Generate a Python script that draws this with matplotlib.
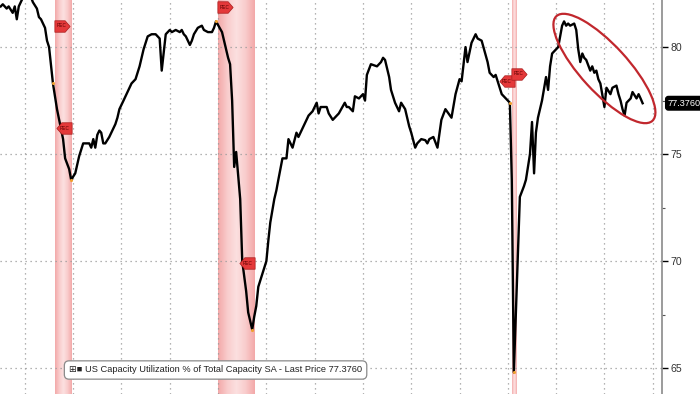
import numpy as np
import pandas as pd
import matplotlib
matplotlib.use('Agg')
import matplotlib.pyplot as plt
import matplotlib.dates as mdates
from matplotlib.patches import Ellipse
from matplotlib.path import Path
from matplotlib.colors import LinearSegmentedColormap
from matplotlib.transforms import IdentityTransform, blended_transform_factory, ScaledTranslation

FONT = ['Liberation Sans', 'DejaVu Sans']
plt.rcParams['font.family'] = FONT

# monthly readings of the series (month, % of capacity)
months = ['1999-01', '1999-02', '1999-04', '1999-05', '1999-07', '1999-08', '1999-09', '1999-10', '1999-12',
          '2000-01', '2000-03', '2000-05', '2000-07', '2000-08', '2000-09', '2000-11', '2000-12',
          '2001-01', '2001-03', '2001-05', '2001-08', '2001-09', '2001-11', '2001-12',
          '2002-02', '2002-04', '2002-06', '2002-07', '2002-09', '2002-10', '2002-11', '2002-12',
          '2003-01', '2003-02', '2003-03', '2003-04', '2003-05', '2003-07', '2003-08', '2003-10', '2003-11', '2003-12',
          '2004-02', '2004-05', '2004-06', '2004-08', '2004-10', '2004-12',
          '2005-02', '2005-04', '2005-06', '2005-08', '2005-09', '2005-11',
          '2006-01', '2006-02', '2006-04', '2006-06', '2006-07', '2006-08', '2006-09', '2006-11', '2006-12',
          '2007-01', '2007-03', '2007-05', '2007-06', '2007-08', '2007-10', '2007-11', '2007-12',
          '2008-03', '2008-05', '2008-06', '2008-07', '2008-08', '2008-09', '2008-10', '2008-11', '2008-12',
          '2009-01', '2009-03', '2009-04', '2009-06', '2009-07', '2009-08', '2009-09', '2009-10', '2009-11',
          '2010-01', '2010-02', '2010-03', '2010-05', '2010-06', '2010-07', '2010-09', '2010-11', '2010-12',
          '2011-02', '2011-04', '2011-05', '2011-07', '2011-09', '2011-10', '2011-12',
          '2012-02', '2012-03', '2012-04', '2012-07', '2012-08', '2012-10', '2012-12',
          '2013-01', '2013-04', '2013-05', '2013-06', '2013-08', '2013-09', '2013-11',
          '2014-01', '2014-02', '2014-03', '2014-05', '2014-08', '2014-10', '2014-11', '2014-12',
          '2015-02', '2015-03', '2015-05', '2015-07', '2015-08', '2015-10', '2015-12',
          '2016-01', '2016-03', '2016-04', '2016-06', '2016-08', '2016-09', '2016-10', '2016-12',
          '2017-02', '2017-04', '2017-06', '2017-09', '2017-11',
          '2018-01', '2018-02', '2018-04', '2018-05', '2018-07', '2018-09', '2018-10', '2018-12',
          '2019-03', '2019-04', '2019-06', '2019-07', '2019-09', '2019-10',
          '2020-01', '2020-02', '2020-03', '2020-04', '2020-07', '2020-09', '2020-10', '2020-11', '2020-12',
          '2021-01', '2021-02', '2021-03', '2021-04', '2021-06', '2021-08', '2021-09', '2021-10', '2021-11',
          '2022-01', '2022-02', '2022-04', '2022-05', '2022-06', '2022-07', '2022-08', '2022-10', '2022-11', '2022-12',
          '2023-01', '2023-02', '2023-03', '2023-04', '2023-06', '2023-07', '2023-08', '2023-09', '2023-10', '2023-11',
          '2024-01', '2024-02', '2024-04', '2024-05', '2024-07', '2024-08', '2024-09', '2024-10', '2024-11', '2024-12',
          '2025-02', '2025-03', '2025-05', '2025-06', '2025-07', '2025-08']
values = [81.9, 82.0, 81.8, 81.9, 81.6, 81.9, 81.3, 81.9, 82.3,
          82.5, 82.6, 82.1, 81.8, 81.4, 81.3, 80.9, 80.3,
          80.0, 78.3, 77.1, 75.7, 74.8, 74.3, 73.8,
          74.1, 74.9, 75.5, 75.5, 75.5, 75.3, 75.7, 75.3,
          75.9, 76.1, 76.0, 75.5, 75.5, 75.8, 76.0, 76.4, 76.7, 77.1,
          77.5, 78.1, 78.3, 78.5, 79.1, 79.9,
          80.5, 80.6, 80.6, 80.4, 78.9, 80.6,
          80.8, 80.7, 80.8, 80.7, 80.8, 80.6, 80.5, 80.1, 80.3,
          80.6, 80.9, 81.0, 80.8, 80.7, 80.7, 80.9, 81.2,
          80.7, 79.9, 79.5, 79.2, 77.5, 74.4, 75.1, 74.0, 72.9,
          70.0, 68.6, 67.6, 66.8, 67.4, 67.9, 68.8, 69.1, 69.4,
          70.0, 71.0, 71.8, 72.9, 73.3, 73.8, 74.8, 74.8, 75.7,
          75.3, 76.0, 75.8, 76.2, 76.6, 76.8, 77.0,
          77.4, 76.9, 77.2, 77.2, 76.9, 76.6, 76.8,
          76.9, 77.4, 77.2, 77.2, 77.0, 77.7, 77.6,
          77.8, 77.5, 78.7, 79.2, 79.1, 79.3, 79.5, 79.4,
          78.6, 78.0, 77.4, 77.0, 77.4, 77.1, 76.3,
          76.0, 75.3, 75.5, 75.7, 75.65, 75.5, 75.7, 75.8,
          75.3, 76.6, 77.1, 76.7, 77.8,
          78.5, 78.4, 80.0, 79.3, 80.2, 80.6, 80.4, 80.3,
          79.3, 78.8, 78.6, 78.7, 78.1, 77.8,
          77.5, 77.4, 73.8, 64.8, 73.0, 73.5, 73.8, 74.4, 75.0,
          76.5, 74.1, 76.0, 76.7, 77.5, 78.6, 78.0, 79.1, 79.7,
          79.9, 80.0, 81.0, 81.2, 81.0, 81.1, 81.0, 81.1, 80.8, 79.9,
          79.3, 79.7, 79.5, 79.4, 78.9, 79.1, 78.8, 78.9, 78.5, 78.3,
          77.2, 78.1, 77.8, 78.1, 78.2, 77.8, 77.5, 77.1, 76.8, 77.4,
          77.6, 77.9, 77.6, 77.8, 77.6, 77.376]

rec_start = ['2001-04-01', '2008-01-01', '2020-03-01']
rec_end = ['2001-12-01', '2009-07-01', '2020-05-01']
turn_months = ['2001-03', '2001-12', '2007-12', '2009-06', '2020-02', '2020-04']

# REC flags: (date the flag edge sits on, level, side)
tag_dates = ['2001-04-01', '2001-12-01', '2008-01-01', '2009-07-01', '2020-04-01', '2020-03-01']
tag_levels = [81.0, 76.2, 81.85, 69.9, 78.4, 78.75]
tag_sides = ['start', 'end', 'start', 'end', 'end', 'start']

y_ticks = [65, 70, 75, 80]
y_minor = [67.5, 72.5, 77.5]
last_price = 77.376
series_name = 'US Capacity Utilization % of Total Capacity SA'
ellipse_center = ('2024-01-01', 79.0)

dates = pd.to_datetime(months, format='%Y-%m')
s = pd.Series(values, index=dates)

fig = plt.figure(figsize=(7, 3.94), dpi=100)
ax = fig.add_axes([0, 0, 662 / 700, 1])
ax.set_xlim(pd.Timestamp('1998-12-21'), pd.Timestamp('2026-05-21'))
ax.set_ylim(63.79, 82.2)

# recession bands with a soft gradient
band_cmap = LinearSegmentedColormap.from_list('band', ['#f3a9a9', '#f9cccc', '#fce0e0', '#f9cccc', '#f3a9a9'])
grad = np.linspace(0, 1, 64).reshape(1, -1)
for a, b in zip(rec_start, rec_end):
    x0 = mdates.date2num(pd.Timestamp(a))
    x1 = mdates.date2num(pd.Timestamp(b))
    ax.imshow(grad, cmap=band_cmap, aspect='auto', extent=(x0, x1, 63.79, 82.2),
              zorder=0, interpolation='bilinear')

ax.xaxis.set_major_locator(mdates.YearLocator(2))
ax.set_yticks(y_ticks)
ax.set_yticks(y_minor, minor=True)
ax.grid(True, which='major', color='#9a9a9a', linestyle=(0, (1, 3)), linewidth=0.9)
ax.set_axisbelow(True)

ax.plot(s.index, s.values, color='black', lw=1.7, zorder=3, solid_joinstyle='round')

turn = s[pd.to_datetime(turn_months, format='%Y-%m')]
ax.scatter(turn.index, turn.values, s=5, color='#f0a030', zorder=4, linewidths=0)

# pentagon flag markers
flag_r = Path([(-1, -0.75), (0.35, -0.75), (1, 0), (0.35, 0.75), (-1, 0.75), (-1, -0.75)],
              [Path.MOVETO] + [Path.LINETO] * 4 + [Path.CLOSEPOLY])
flag_l = Path([(1, -0.75), (-0.35, -0.75), (-1, 0), (-0.35, 0.75), (1, 0.75), (1, -0.75)],
              [Path.MOVETO] + [Path.LINETO] * 4 + [Path.CLOSEPOLY])
for d, lv, side in zip(tag_dates, tag_levels, tag_sides):
    dx = 7 if side == 'start' else -7
    tr_off = ax.transData + ScaledTranslation(dx / 72 * 0.72, 0, fig.dpi_scale_trans)
    ax.plot([pd.Timestamp(d)], [lv], marker=flag_r if side == 'start' else flag_l,
            markersize=11, mfc='#e4393a', mec='#a81c1c', mew=0.5, transform=tr_off,
            zorder=6, clip_on=False)
    ax.text(pd.Timestamp(d), lv, 'REC', fontsize=3.3, color='#5a0000', transform=tr_off,
            ha='center', va='center', zorder=7)

# right axis
ax.yaxis.tick_right()
ax.tick_params(axis='y', which='major', length=4, width=1, pad=2, labelsize=7.6,
               labelcolor='#333333', color='black')
ax.tick_params(axis='y', which='minor', length=2, width=0.8, color='#555555')
ax.tick_params(axis='x', which='both', length=0, labelbottom=False)
for side in ['top', 'left', 'bottom']:
    ax.spines[side].set_visible(False)
ax.spines['right'].set_color('#8a8a8a')
ax.spines['right'].set_linewidth(1.2)

# last price tag
tr = blended_transform_factory(ax.transAxes, ax.transData)
ax.text(1.009, last_price, f'{last_price:.4f}', transform=tr, fontsize=6.6, color='white',
        ha='left', va='center', zorder=7, clip_on=False,
        bbox=dict(boxstyle='round,pad=0.25,rounding_size=0.3', fc='black', ec='black'))

# red ellipse highlighting the recent slide
cx, cy = ax.transData.transform((mdates.date2num(pd.Timestamp(ellipse_center[0])), ellipse_center[1]))
ax.add_patch(Ellipse((cx, cy), 142, 47, angle=-47.5, transform=IdentityTransform(),
                     fill=False, ec='#c1272d', lw=1.6, zorder=5))

# legend box
fig.text(69 / 700, 1 - 370 / 394, '\u229e\u25a0 ' + series_name + ' - Last Price ' + f'{last_price:.4f}',
         fontsize=6.7, color='#222222', ha='left', va='center', zorder=8,
         bbox=dict(boxstyle='round,pad=0.5,rounding_size=0.5', fc='white', ec='#8a8a8a', lw=0.9))

fig.savefig('out.png', dpi=100)
